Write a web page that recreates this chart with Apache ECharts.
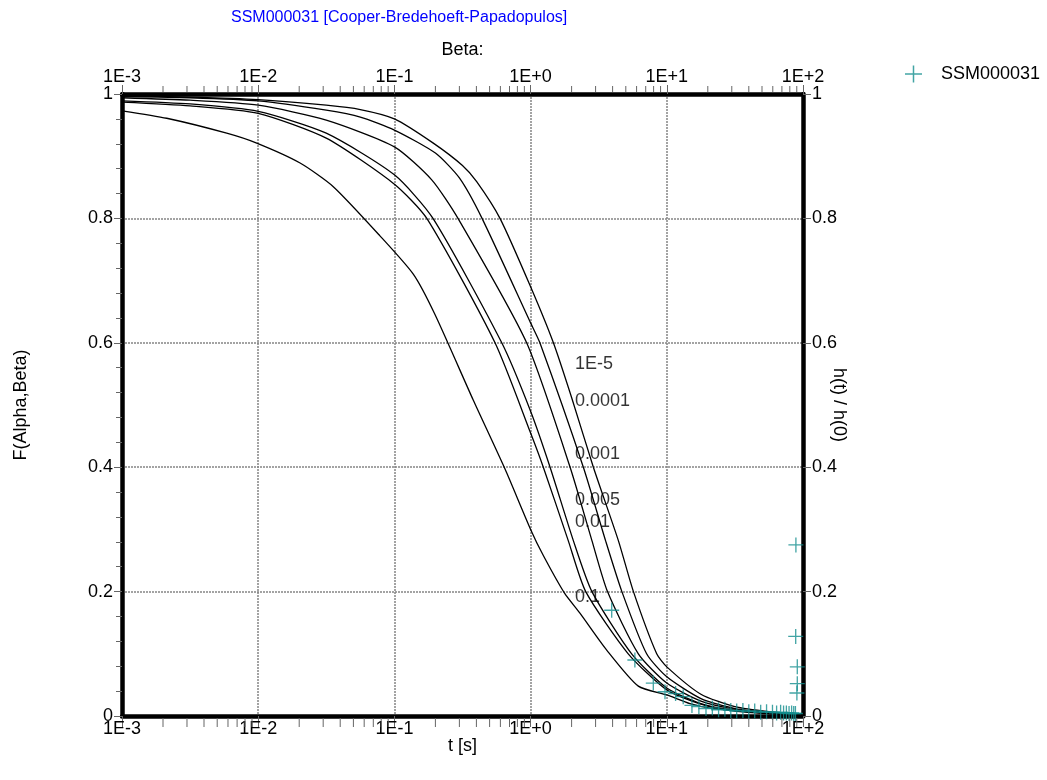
<!DOCTYPE html>
<html><head><meta charset="utf-8">
<script src="https://cdn.jsdelivr.net/npm/echarts@6/dist/echarts.min.js"></script>
<style>html,body{margin:0;padding:0;background:#fff}#c{width:1047px;height:780px}</style>
</head><body><div id="c"></div>
<script>
// ---- data ----
const xTickLabels = ['1E-3', '1E-2', '1E-1', '1E+0', '1E+1', '1E+2'];
const yTickLabels = ['0', '0.2', '0.4', '0.6', '0.8', '1'];
const xMinorTicks = [0.002,0.003,0.004,0.005,0.006,0.007,0.008,0.009,
  0.02,0.03,0.04,0.05,0.06,0.07,0.08,0.09,
  0.2,0.3,0.4,0.5,0.6,0.7,0.8,0.9,
  2,3,4,5,6,7,8,9,
  20,30,40,50,60,70,80,90];
const curveNames = ['1E-5', '0.0001', '0.001', '0.005', '0.01', '0.1'];

const curveA1e5 = [[0.001,0.997],[0.00316,0.995],[0.01,0.991],[0.0316,0.982],[0.0562,0.975],[0.1,0.960],[0.193,0.921],[0.316,0.885],[0.402,0.859],[0.596,0.800],[1,0.690],[1.47,0.600],[2.0,0.512],[2.89,0.400],[4.41,0.282],[5.69,0.200],[8.43,0.100],[10,0.079],[17.8,0.035],[31.6,0.015],[56.2,0.007],[100,0.003]];
const curveA1e4 = [[0.001,0.996],[0.00316,0.994],[0.01,0.989],[0.0316,0.974],[0.0562,0.963],[0.1,0.942],[0.2,0.905],[0.3,0.865],[0.44,0.800],[1,0.632],[1.17,0.600],[2.44,0.400],[3.55,0.282],[4.68,0.200],[7.11,0.100],[10,0.063],[17.8,0.028],[31.6,0.012],[56.2,0.006],[100,0.003]];
const curveA1e3 = [[0.001,0.994],[0.00316,0.990],[0.01,0.982],[0.0316,0.958],[0.1,0.915],[0.188,0.862],[0.293,0.800],[0.935,0.600],[1.95,0.400],[2.82,0.282],[3.67,0.200],[6.18,0.100],[10,0.053],[17.8,0.024],[31.6,0.011],[56.2,0.005],[100,0.002]];
const curveA5e3 = [[0.001,0.989],[0.00316,0.984],[0.01,0.972],[0.0316,0.937],[0.1,0.870],[0.192,0.800],[0.614,0.600],[1,0.490],[1.39,0.400],[2.06,0.282],[2.82,0.200],[5.52,0.100],[10,0.045],[17.8,0.020],[31.6,0.009],[56.2,0.004],[100,0.002]];
const curveA1e2 = [[0.001,0.987],[0.00316,0.981],[0.01,0.969],[0.0316,0.929],[0.1,0.855],[0.173,0.800],[0.548,0.600],[1,0.455],[1.24,0.400],[1.89,0.282],[2.54,0.200],[5.21,0.100],[10,0.042],[17.8,0.019],[31.6,0.008],[56.2,0.004],[100,0.002]];
const curveA1e1 = [[0.001,0.973],[0.00213,0.961],[0.00587,0.937],[0.00975,0.921],[0.0203,0.889],[0.0356,0.851],[0.0783,0.772],[0.138,0.710],[0.199,0.645],[0.379,0.508],[0.649,0.397],[1,0.300],[1.24,0.258],[1.78,0.197],[2.31,0.165],[3.62,0.106],[6.18,0.048],[10,0.034],[14.8,0.020],[21.9,0.012],[56.2,0.005],[100,0.002]];

// curve label anchor points [t, F]
const curveLabelPos = [[2.12,0.566],[2.12,0.506],[2.12,0.421],[2.12,0.347],[2.12,0.312],[2.12,0.192]];

// measured data SSM000031 [t, h(t)/h(0)]
const ssmData = [[3.94,0.170],[5.83,0.090],[7.96,0.053],[9.7,0.039],[11.6,0.036],[13.2,0.031],[15.3,0.017],[17.2,0.015],[19.4,0.012],[21.6,0.013],[24.0,0.010],[26.7,0.011],[29.5,0.009],[32.6,0.008],[36.2,0.009],[40.0,0.007],[44.2,0.008],[48.9,0.006],[54.0,0.007],[59.7,0.006],[64.0,0.005],[68.5,0.006],[72.0,0.005],[75.5,0.005],[79.0,0.004],[82.5,0.005],[85.5,0.004],[88.0,0.004],[88.7,0.275],[88.4,0.128],[90.8,0.079],[90.8,0.052],[90.2,0.037]];

// ---- chart ----
const FONT = 'Liberation Sans, Arial, sans-serif';
const crossPath = 'path://M7.3,0h1.4v7.3h7.3v1.4h-7.3v7.3h-1.4v-7.3h-7.3v-1.4h7.3z';
const teal = '#138d8d';
const xFmt = v => xTickLabels[Math.round(Math.log10(v)) + 3];
const yFmt = v => yTickLabels[Math.round(v / 0.2)];
const gridLine = { show: true, lineStyle: { color: '#858585', width: 1.5, type: [2, 1] } };

const curves = [curveA1e5, curveA1e4, curveA1e3, curveA5e3, curveA1e2, curveA1e1];
const series = curves.map((d, i) => ({
  name: 'curve' + curveNames[i], type: 'line', data: d, showSymbol: false, symbol: 'none',
  smooth: 0.22, lineStyle: { color: '#000', width: 1.3 }, silent: true, z: 2
}));
series.push({
  name: 'labels', type: 'scatter', symbolSize: 0, silent: true, z: 3,
  data: curveLabelPos.map((p, i) => ({ value: p, name: curveNames[i] })),
  label: { show: true, position: 'right', distance: 0, formatter: p => p.name, color: '#000', fontSize: 18, fontFamily: FONT }
});
series.push({
  name: 'SSM000031', type: 'scatter', data: ssmData, symbol: crossPath, symbolSize: 15,
  itemStyle: { color: teal }, z: 4, silent: true
});
// log-spaced minor ticks on bottom and top axes, placed through the axis scale
function tickSeries(name, yVal, dir, color, len) {
  return {
    name: name, type: 'custom', silent: true, clip: false, z: 10,
    data: xMinorTicks.map(t => [t, yVal]),
    renderItem: (params, api) => {
      const p = api.coord([api.value(0), api.value(1)]);
      return { type: 'rect', shape: { x: p[0] - 0.5, y: dir > 0 ? p[1] + 2 : p[1] - 2 - len, width: 1, height: len },
               style: { fill: color } };
    }
  };
}
series.push(tickSeries('minorBottom', 0, 1, '#666', 9));
series.push(tickSeries('minorTop', 1, -1, '#666', 6));

const chart = echarts.init(document.getElementById('c'), null, { renderer: 'canvas' });
chart.setOption({
  animation: false,
  backgroundColor: '#fff',
  textStyle: { fontFamily: FONT },
  title: {
    text: 'SSM000031 [Cooper-Bredehoeft-Papadopulos]', left: 231, top: 10, padding: 0,
    textStyle: { color: '#0000ff', fontSize: 16, fontWeight: 'normal', fontFamily: FONT }
  },
  legend: {
    left: 900, top: 60, itemWidth: 17, itemHeight: 17,
    data: [{ name: 'SSM000031', icon: crossPath, itemStyle: { color: teal } }],
    textStyle: { color: '#000', fontSize: 18, fontFamily: FONT, padding: [0, 0, 0, 14] }
  },
  grid: { left: 122, right: 244, top: 94, bottom: 64, containLabel: false, outerBoundsMode: 'none' },
  xAxis: [
    {
      type: 'log', logBase: 10, min: 0.001, max: 100, position: 'bottom',
      name: 't [s]', nameLocation: 'middle', nameGap: 21, nameMoveOverlap: false,
      nameTextStyle: { color: '#000', fontSize: 18, fontFamily: FONT },
      axisLine: { show: true, onZero: false, lineStyle: { color: '#000', width: 4.5 } },
      axisTick: { show: true, length: 11, lineStyle: { color: '#666' } },
      axisLabel: { formatter: xFmt, color: '#000', fontSize: 18, fontFamily: FONT, margin: 4, showMinLabel: true, showMaxLabel: true, hideOverlap: false },
      splitLine: gridLine
    },
    {
      type: 'log', logBase: 10, min: 0.001, max: 100, position: 'top',
      name: 'Beta:', nameLocation: 'middle', nameGap: 35, nameMoveOverlap: false,
      nameTextStyle: { color: '#000', fontSize: 18, fontFamily: FONT },
      axisLine: { show: true, onZero: false, lineStyle: { color: '#000', width: 4.5 } },
      axisTick: { show: true, length: 9, lineStyle: { color: '#666' } },
      axisLabel: { formatter: xFmt, color: '#000', fontSize: 18, fontFamily: FONT, margin: 8, showMinLabel: true, showMaxLabel: true, hideOverlap: false },
      splitLine: { show: false }
    }
  ],
  yAxis: [
    {
      type: 'value', min: 0, max: 1, interval: 0.2, position: 'left',
      name: 'F(Alpha,Beta)', nameLocation: 'middle', nameRotate: 90, nameGap: 92, nameMoveOverlap: false,
      nameTextStyle: { color: '#000', fontSize: 18, fontFamily: FONT },
      axisLine: { show: true, onZero: false, lineStyle: { color: '#000', width: 4.5 } },
      axisTick: { show: true, length: 8, lineStyle: { color: '#666' } },
      minorTick: { show: true, splitNumber: 5, length: 6, lineStyle: { color: '#666' } },
      axisLabel: { formatter: yFmt, color: '#000', fontSize: 18, fontFamily: FONT, margin: 9 },
      splitLine: gridLine
    },
    {
      type: 'value', min: 0, max: 1, interval: 0.2, position: 'right',
      name: 'h(t) / h(0)', nameLocation: 'middle', nameRotate: -90, nameGap: 27, nameMoveOverlap: false,
      nameTextStyle: { color: '#000', fontSize: 18, fontFamily: FONT },
      axisLine: { show: true, onZero: false, lineStyle: { color: '#000', width: 4.5 } },
      axisTick: { show: true, length: 8, lineStyle: { color: '#666' } },
      axisLabel: { formatter: yFmt, color: '#000', fontSize: 18, fontFamily: FONT, margin: 9 },
      splitLine: { show: false }
    }
  ],
  series: series
});
</script>
</body></html>
